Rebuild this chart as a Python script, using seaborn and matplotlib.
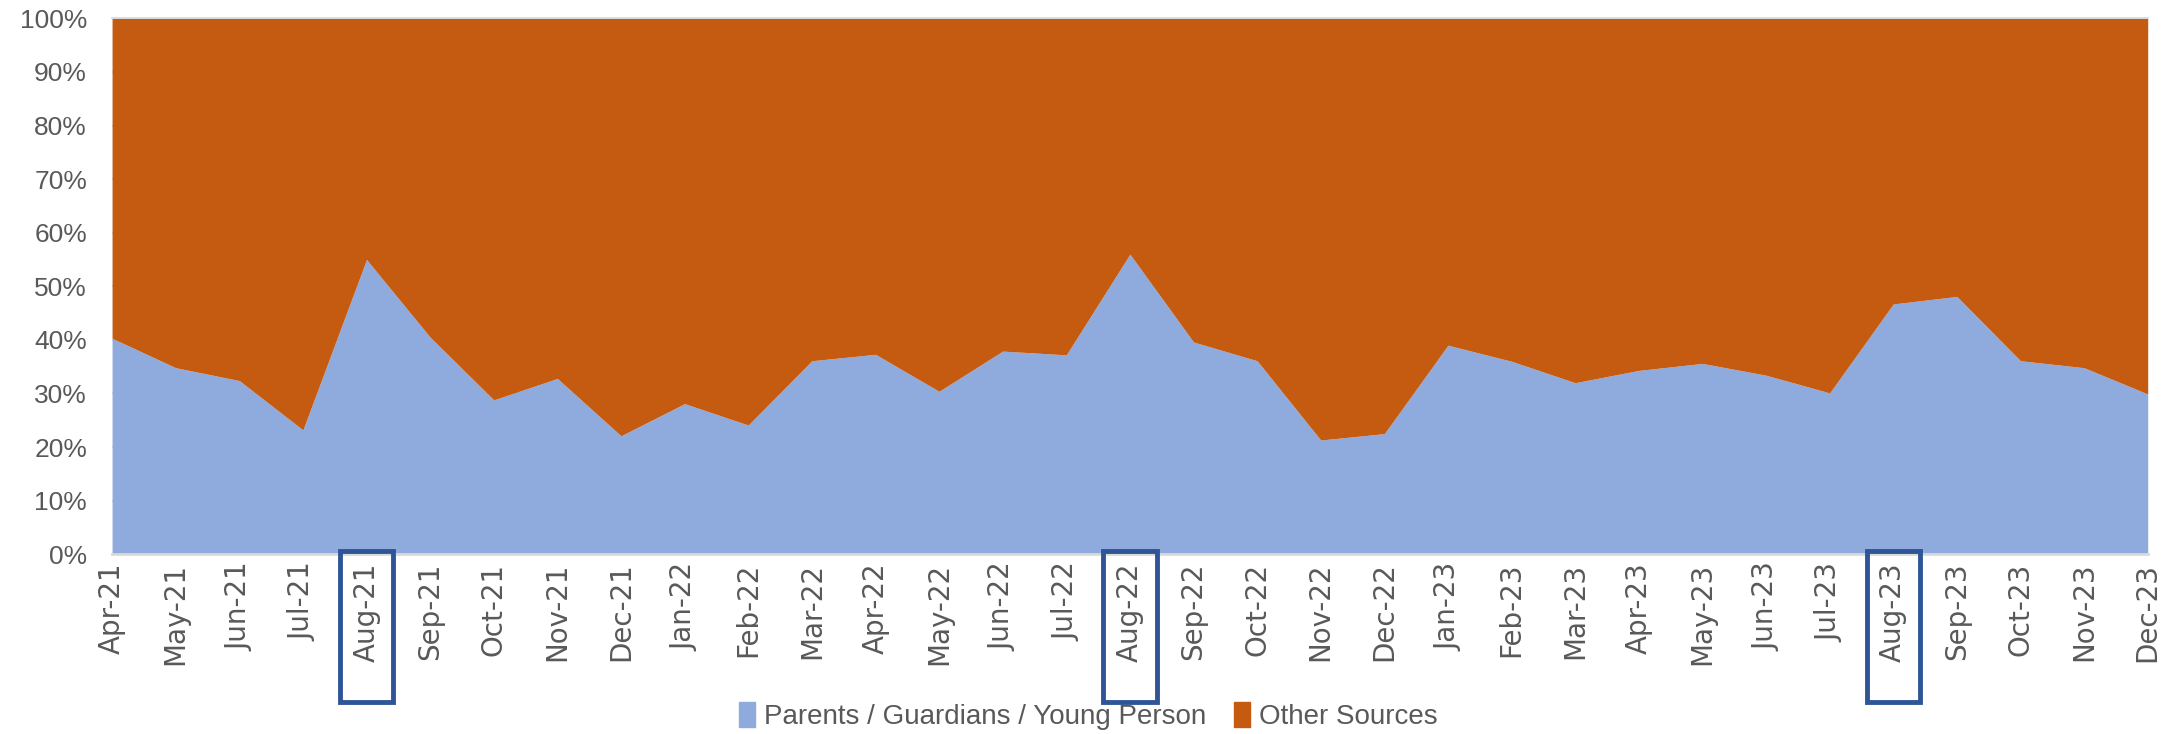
import seaborn as sns
import pandas as pd
import matplotlib.pyplot as plt
from matplotlib.patches import Rectangle, Patch
from matplotlib.transforms import blended_transform_factory

months = ['Apr-21', 'May-21', 'Jun-21', 'Jul-21', 'Aug-21', 'Sep-21', 'Oct-21', 'Nov-21', 'Dec-21',
          'Jan-22', 'Feb-22', 'Mar-22', 'Apr-22', 'May-22', 'Jun-22', 'Jul-22', 'Aug-22', 'Sep-22',
          'Oct-22', 'Nov-22', 'Dec-22', 'Jan-23', 'Feb-23', 'Mar-23', 'Apr-23', 'May-23', 'Jun-23',
          'Jul-23', 'Aug-23', 'Sep-23', 'Oct-23', 'Nov-23', 'Dec-23']
parents = [40.3, 34.8, 32.4, 23.2, 55.0, 40.5, 28.8, 32.8, 22.1, 28.1, 24.1, 36.1, 37.3, 30.4,
           37.9, 37.2, 56.0, 39.6, 36.1, 21.3, 22.5, 39.0, 36.0, 32.0, 34.3, 35.6, 33.4, 30.1,
           46.7, 48.1, 36.1, 34.8, 29.9]
other = [100 - p for p in parents]
highlight = ['Aug-21', 'Aug-22', 'Aug-23']

df = pd.DataFrame({'month': months, 'parents': parents, 'other': other})

blue = '#8FAADC'
orange = '#C55A11'
grey = '#595959'

sns.set_theme(style='white')
plt.rcParams['font.family'] = ['Liberation Sans', 'DejaVu Sans']

fig = plt.figure(figsize=(21.76, 7.34), dpi=100)
ax = fig.add_axes([0.0515, 0.245, 0.9355, 0.73])

x = list(range(len(df)))
ax.stackplot(x, df['parents'], df['other'], colors=[blue, orange], linewidth=0, zorder=2)

ax.set_xlim(0, len(df) - 1)
ax.set_ylim(0, 100)
ax.set_yticks(range(0, 101, 10))
ax.set_yticklabels([f'{v}%' for v in range(0, 101, 10)], fontsize=19, color=grey)
ax.set_xticks(x)
ax.set_xticklabels(df['month'], rotation=90, fontsize=20, color=grey, family='DejaVu Sans')
ax.tick_params(axis='y', length=0, pad=18)
ax.tick_params(axis='x', length=0, pad=6)

ax.grid(axis='y', color='#D9D9D9', linewidth=1.2, zorder=0)
for s in ['left', 'right']:
    ax.spines[s].set_visible(False)
ax.spines['top'].set_color('#D9D9D9')
ax.spines['bottom'].set_color('#D9D9D9')
ax.spines['bottom'].set_linewidth(2)

# boxes round the August tick labels
trans = blended_transform_factory(ax.transData, ax.transAxes)
for m in highlight:
    i = months.index(m)
    ax.add_patch(Rectangle((i - 0.42, -0.275), 0.84, 0.28, transform=trans, fill=False,
                           edgecolor='#2F5597', linewidth=3.5, clip_on=False, zorder=5))

handles = [Patch(color=blue, label='Parents / Guardians / Young Person'),
           Patch(color=orange, label='Other Sources')]
fig.legend(handles=handles, loc='center', bbox_to_anchor=(0.5, 0.024), ncol=2, frameon=False,
           fontsize=20, labelcolor=grey, handlelength=0.6, handleheight=1.0, handletextpad=0.3,
           columnspacing=1.0)

plt.savefig('out.png', dpi=100)
